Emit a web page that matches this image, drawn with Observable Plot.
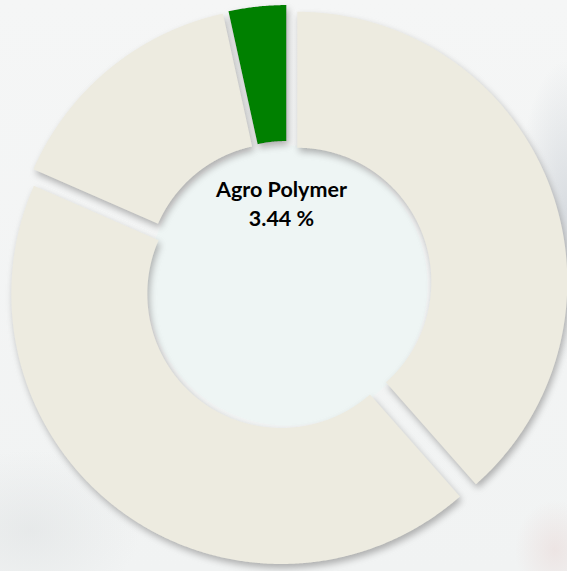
<!DOCTYPE html>
<html>
<head>
<meta charset="utf-8">
<script src="https://cdn.jsdelivr.net/npm/d3@7"></script>
<script src="https://cdn.jsdelivr.net/npm/@observablehq/plot@0.6"></script>
<style>
html, body { margin: 0; padding: 0; }
body {
  width: 567px; height: 571px; overflow: hidden;
  background:
    radial-gradient(ellipse 50px 150px at 567px 210px, rgba(205,210,216,0.7), rgba(205,210,216,0) 100%),
    radial-gradient(ellipse 110px 80px at 30px 530px, rgba(222,225,226,0.55), rgba(222,225,226,0) 100%),
    radial-gradient(ellipse 40px 50px at 555px 550px, rgba(232,214,212,0.5), rgba(232,214,212,0) 100%),
    linear-gradient(180deg, #f5f6f6 0%, #f1f3f3 100%);
}
#chart svg { background: transparent !important; display: block; }
</style>
</head>
<body>
<div id="chart"></div>
<script>
// ---- data ----
const categories = ["Other segment A", "Other segment B", "Other segment C", "Agro Polymer"];
const shares = [38.5, 43.06, 15.0, 3.44];          // percent of total
const sliceColors = ["#EDEBE0", "#EDEBE0", "#EDEBE0", "#008000"];
const highlighted = "Agro Polymer";

// ---- layout ----
const W = 567, H = 571;
const cx = 287, cy = 285;     // ring centre (px)
const R = 270, r = 134;       // outer / inner radius
const explode = 10.5;         // slice explosion distance

const rows = categories.map((name, i) => ({name, share: shares[i], color: sliceColors[i]}));
const arcs = d3.pie().sort(null).value(d => d.share)(rows);

function slicePolygon(a) {
  const mid = (a.startAngle + a.endAngle) / 2;
  const ox = cx + explode * Math.sin(mid), oy = cy - explode * Math.cos(mid);
  const n = Math.max(4, Math.ceil((a.endAngle - a.startAngle) / 0.005));
  const pts = [];
  for (let k = 0; k <= n; k++) {
    const t = a.startAngle + (a.endAngle - a.startAngle) * k / n;
    pts.push({name: a.data.name, x: ox + R * Math.sin(t), y: oy - R * Math.cos(t)});
  }
  for (let k = n; k >= 0; k--) {
    const t = a.startAngle + (a.endAngle - a.startAngle) * k / n;
    pts.push({name: a.data.name, x: ox + r * Math.sin(t), y: oy - r * Math.cos(t)});
  }
  return pts;
}

const holePts = d3.range(0, 361, 2).map(d => ({
  x: cx + (r + 6) * Math.sin(d * Math.PI / 180),
  y: cy - (r + 6) * Math.cos(d * Math.PI / 180)
}));

const hi = rows.find(d => d.name === highlighted);
const labelText = `${hi.name}\n${hi.share.toFixed(2)} %`;

const sliceMarks = arcs.map(a => Plot.line(slicePolygon(a), {
  x: "x", y: "y", fill: a.data.color, stroke: "none", curve: "linear-closed"
}));

const marks = [
  Plot.line(holePts, {x: "x", y: "y", fill: "#eef5f4", stroke: "none", curve: "linear-closed"}),
  ...sliceMarks,
  Plot.text([{x: cx - 6, y: 202, t: labelText}], {
    x: "x", y: "y", text: "t", fontSize: 21.5, fontWeight: "bold", fill: "#000",
    fontFamily: "Lato, 'Open Sans', sans-serif", lineHeight: 1.32, lineAnchor: "middle", textAnchor: "middle"
  })
];

const chart = Plot.plot({
  width: W, height: H,
  margin: 0,
  x: {domain: [0, W], range: [0, W], axis: null},
  y: {domain: [0, H], range: [0, H], axis: null},
  style: {background: "transparent"},
  marks
});

// soft drop shadow under the slices
const svg = d3.select(chart);
const defs = svg.insert("defs", ":first-child");
const f = defs.append("filter").attr("id", "sliceShadow")
  .attr("x", "-20%").attr("y", "-20%").attr("width", "140%").attr("height", "140%");
f.append("feGaussianBlur").attr("in", "SourceAlpha").attr("stdDeviation", 3.5).attr("result", "b");
f.append("feOffset").attr("in", "b").attr("dx", 2).attr("dy", 4).attr("result", "o");
f.append("feComponentTransfer").attr("in", "o").attr("result", "s")
  .append("feFuncA").attr("type", "linear").attr("slope", 0.7);
f.append("feColorMatrix").attr("in", "s").attr("type", "matrix")
  .attr("values", "0 0 0 0 0.28  0 0 0 0 0.28  0 0 0 0 0.28  0 0 0 1 0").attr("result", "sc");
const m = f.append("feMerge");
m.append("feMergeNode").attr("in", "sc");
m.append("feMergeNode").attr("in", "SourceGraphic");

document.getElementById("chart").append(chart);
const groups = svg.selectAll('g[aria-label="line"]').nodes();
groups.slice(1).forEach(g => d3.select(g).selectAll("path").attr("filter", "url(#sliceShadow)"));
</script>
</body>
</html>
